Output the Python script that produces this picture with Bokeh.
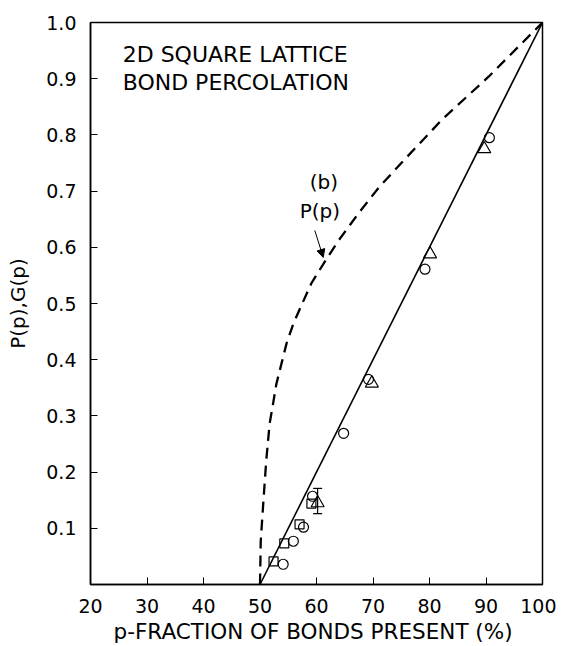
from bokeh.plotting import figure
from bokeh.models import FixedTicker, Arrow, NormalHead, Whisker, TeeHead, ColumnDataSource
from bokeh.embed import file_html
from bokeh.resources import INLINE
from bokeh.core.properties import value

# ---- data ----
x_ticks = [20, 30, 40, 50, 60, 70, 80, 90, 100]
y_ticks = [0.1, 0.2, 0.3, 0.4, 0.5, 0.6, 0.7, 0.8, 0.9, 1.0]
y_tick_labels = ["0.1", "0.2", "0.3", "0.4", "0.5", "0.6", "0.7", "0.8", "0.9", "1.0"]

# G(p): straight solid line
g_line_p = [50.0, 100.0]
g_line_v = [0.0, 1.0]

# P(p): dashed curve (b)
curve_p = [50.0, 50.13, 50.6, 51.1, 51.7, 52.3, 52.9, 53.8, 54.7, 55.9, 57.3, 59.1,
           61.5, 63.9, 67.4, 71.0, 75.1, 82.2, 90.5, 100.0]
curve_v = [0.0, 0.077, 0.148, 0.22, 0.286, 0.321, 0.357, 0.393, 0.429, 0.464, 0.496, 0.536,
           0.575, 0.612, 0.660, 0.706, 0.751, 0.827, 0.904, 1.0]

circle_p = [54.1, 55.9, 57.7, 59.3, 64.8, 69.2, 79.2, 90.6]
circle_v = [0.036, 0.077, 0.102, 0.157, 0.269, 0.365, 0.561, 0.795]

square_p = [52.4, 54.3, 57.0, 59.1]
square_v = [0.041, 0.073, 0.107, 0.144]

triangle_p = [60.2, 69.8, 80.1, 89.7]
triangle_v = [0.145, 0.358, 0.588, 0.775]

err_p = [60.2]
err_lo = [0.126]
err_hi = [0.171]

title_lines = ["2D SQUARE LATTICE", "BOND PERCOLATION"]
FONT = "DejaVu Sans"

p = figure(width=556, height=646, x_range=(20, 100), y_range=(0, 1.0),
           output_backend="svg", toolbar_location=None,
           min_border_left=90, min_border_right=14, min_border_top=22, min_border_bottom=61)
p.background_fill_color = "white"
p.border_fill_color = "white"
p.outline_line_color = "black"
p.outline_line_width = 1.5
p.grid.visible = False

for ax in (p.xaxis, p.yaxis):
    ax.major_tick_in = 7
    ax.major_tick_out = 0
    ax.minor_tick_in = 0
    ax.minor_tick_out = 0
    ax.axis_line_color = "black"
    ax.axis_line_width = 1.5
    ax.major_tick_line_color = "black"
    ax.major_label_text_font = FONT
    ax.major_label_text_font_size = "19px"
    ax.major_label_text_color = "black"
    ax.axis_label_text_font = FONT
    ax.axis_label_text_font_style = "normal"
    ax.axis_label_text_color = "black"

p.xaxis.ticker = FixedTicker(ticks=x_ticks)
p.xaxis.major_label_standoff = 14
p.xaxis.axis_label = "p-FRACTION OF BONDS PRESENT  (%)"
p.xaxis.axis_label_text_font_size = "21.5px"
p.xaxis.axis_label_standoff = 3

p.yaxis.ticker = FixedTicker(ticks=y_ticks)
p.yaxis.major_label_overrides = {t: l for t, l in zip(y_ticks, y_tick_labels)}
p.yaxis.major_label_standoff = 14
p.yaxis.axis_label = "P(p),G(p)"
p.yaxis.axis_label_text_font_size = "20px"
p.yaxis.axis_label_standoff = 13

# lines
p.line(g_line_p, g_line_v, line_color="black", line_width=1.6)
p.line(curve_p, curve_v, line_color="black", line_width=2.3, line_dash="11 7")

# markers
p.scatter(circle_p, circle_v, marker="circle", size=10, fill_color=None,
          line_color="black", line_width=1.2)
p.scatter(square_p, square_v, marker="square", size=9, fill_color=None,
          line_color="black", line_width=1.2)
p.scatter(triangle_p, triangle_v, marker="triangle", size=13, fill_color=None,
          line_color="black", line_width=1.2)

err_src = ColumnDataSource(dict(base=err_p, lower=err_lo, upper=err_hi))
p.add_layout(Whisker(source=err_src, base="base", lower="lower", upper="upper",
                     dimension="height", line_color="black", line_width=1.2,
                     upper_head=TeeHead(size=9, line_color="black", line_width=1.2),
                     lower_head=TeeHead(size=9, line_color="black", line_width=1.2)))

# texts
p.text(x=[25.7, 25.7], y=[0.943, 0.893], text=title_lines, text_font=value(FONT),
       text_font_size="22px", text_baseline="middle", text_align="left", text_color="black")
p.text(x=[61.3, 60.6], y=[0.716, 0.664], text=["(b)", "P(p)"], text_font=value(FONT),
       text_font_size="20px", text_baseline="middle", text_align="center", text_color="black")

p.add_layout(Arrow(x_start=59.7, y_start=0.630, x_end=61.2, y_end=0.582,
                   line_color="black", line_width=1.0,
                   end=NormalHead(size=8, fill_color="black", line_color="black")))

open("out.html", "w").write(file_html(p, INLINE))
